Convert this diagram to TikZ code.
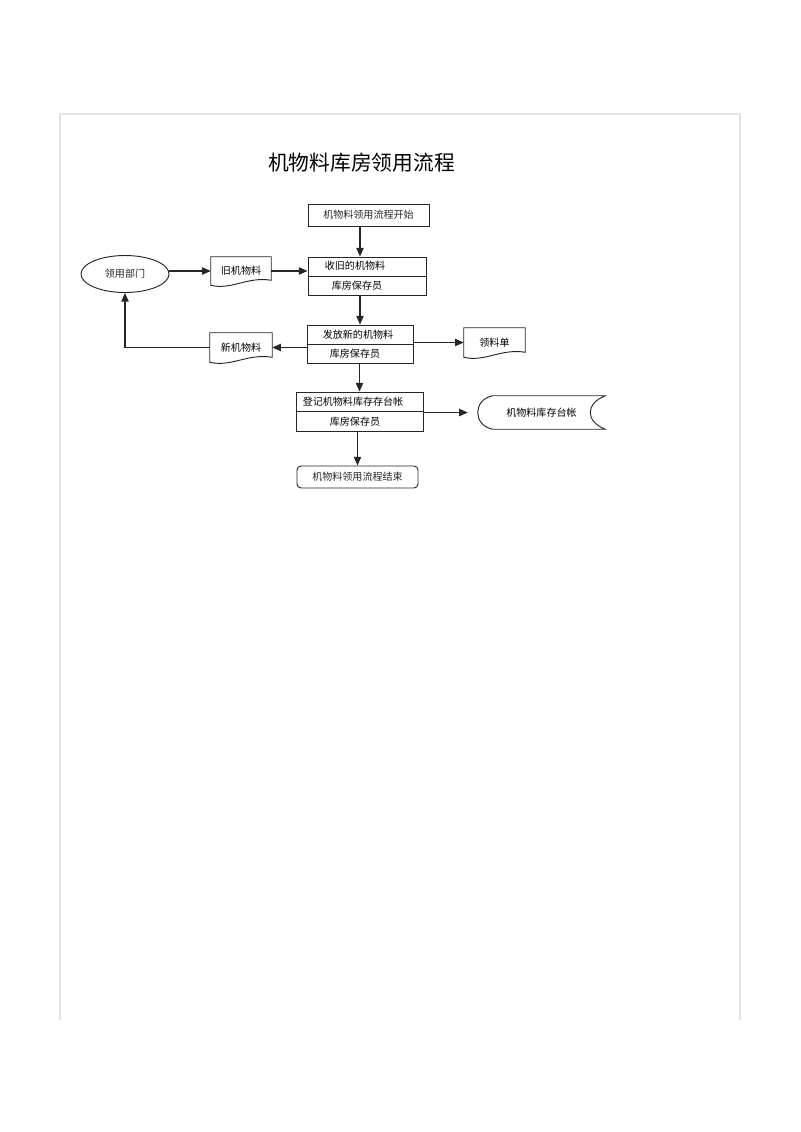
\documentclass[tikz,border=0pt]{standalone}
\usepackage{fontspec}
\setmainfont{Noto Sans CJK SC}
\usetikzlibrary{arrows.meta,shapes.geometric,calc}
\newcommand\pxu{0.02625cm}
% document symbol: straight top, wavy bottom
\newcommand\docout[1]{\draw[line] (#1.north west) -- (#1.north east) -- ($(#1.south east)+(0,-5)$) .. controls ($(#1.south)+(6,-9)$) and ($(#1.south)+(-9,5)$) .. (#1.south west) -- cycle;}
\begin{document}
\begin{tikzpicture}[x=\pxu,y=-\pxu,font=\fontsize{7.5}{9}\selectfont,
  line/.style={black!85,line width=.7pt},
  arr/.style={line,line width=.8pt,-{Triangle[length=6.5pt,width=5.5pt]}},
  box/.style={line,draw,rectangle,inner sep=0pt},
  doc/.style={rectangle,inner sep=0pt}]
\useasboundingbox (0,0) rectangle (800,1132);
\draw[gray!22,line width=.8pt] (60,1020)--(60,114)--(740,114)--(740,1020);
\node[font=\fontsize{15.5}{18}\selectfont] (title) at (361.5,163) {机物料库房领用流程};
% process boxes
\node[box,minimum width=121*\pxu,minimum height=22*\pxu] (start) at (368.5,215) {机物料领用流程开始};
\node[box,minimum width=118*\pxu,minimum height=38*\pxu] (get) at (367,276) {};\draw[line] (get.west)--(get.east);
\node (gett) at (355,266) {收旧的机物料};\node (getb) at (357,286) {库房保存员};
\node[box,minimum width=106*\pxu,minimum height=38*\pxu] (issue) at (360,344) {};\draw[line] (issue.west)--(issue.east);
\node (issuet) at (358,334.5) {发放新的机物料};\node (issueb) at (355,354) {库房保存员};
\node[box,minimum width=127*\pxu,minimum height=39*\pxu] (post) at (359.5,411.5) {};\draw[line] (post.west)--(post.east);
\node (postt) at (353,402) {登记机物料库存存台帐};\node (postb) at (355,421.5) {库房保存员};
\node[box,rounded corners=3pt,minimum width=121*\pxu,minimum height=22*\pxu] (stop) at (357.5,477) {机物料领用流程结束};
% department, documents, ledger
\node[line,draw,ellipse,inner sep=0pt,minimum width=88*\pxu,minimum height=37*\pxu] (dept) at (125,274) {领用部门};
\node[doc,minimum width=60*\pxu,minimum height=28*\pxu] (old) at (241,271) {旧机物料};\docout{old}
\node[doc,minimum width=62*\pxu,minimum height=29*\pxu] (new) at (241,347.5) {新机物料};\docout{new}
\node[doc,minimum width=61*\pxu,minimum height=29*\pxu] (slip) at (494.5,342.5) {领料单};\docout{slip}
\node[doc,minimum width=127*\pxu,minimum height=33*\pxu] (book) at (541.5,412.5) {机物料库存台帐};
\draw[line] (book.north east) .. controls ($(book.north east)+(-20,8)$) and ($(book.south east)+(-20,-8)$) .. (book.south east) -- ($(book.south west)+(15,0)$) .. controls ($(book.south west)+(-5,-4)$) and ($(book.north west)+(-5,4)$) .. ($(book.north west)+(15,0)$) -- cycle;
% connectors
\draw[arr] (start.south -| issue) -- (get.north -| issue);
\draw[arr] (dept.east |- old) -- (old.west);
\draw[arr] (old.east) -- (old.east -| get.west);
\draw[arr] (get.south -| issue) -- (issue.north);
\draw[arr] (issue.west |- new) -- (new.east);
\draw[arr] (new.west) -| (dept.south);
\draw[arr] (issue.east |- slip) -- (slip.west);
\draw[arr] (issue.south -| post) -- (post.north);
\draw[arr,shorten >=7.4pt] (post.east |- book) -- (book.west);
\draw[arr] (post.south -| stop) -- (stop.north);
\end{tikzpicture}
\end{document}
